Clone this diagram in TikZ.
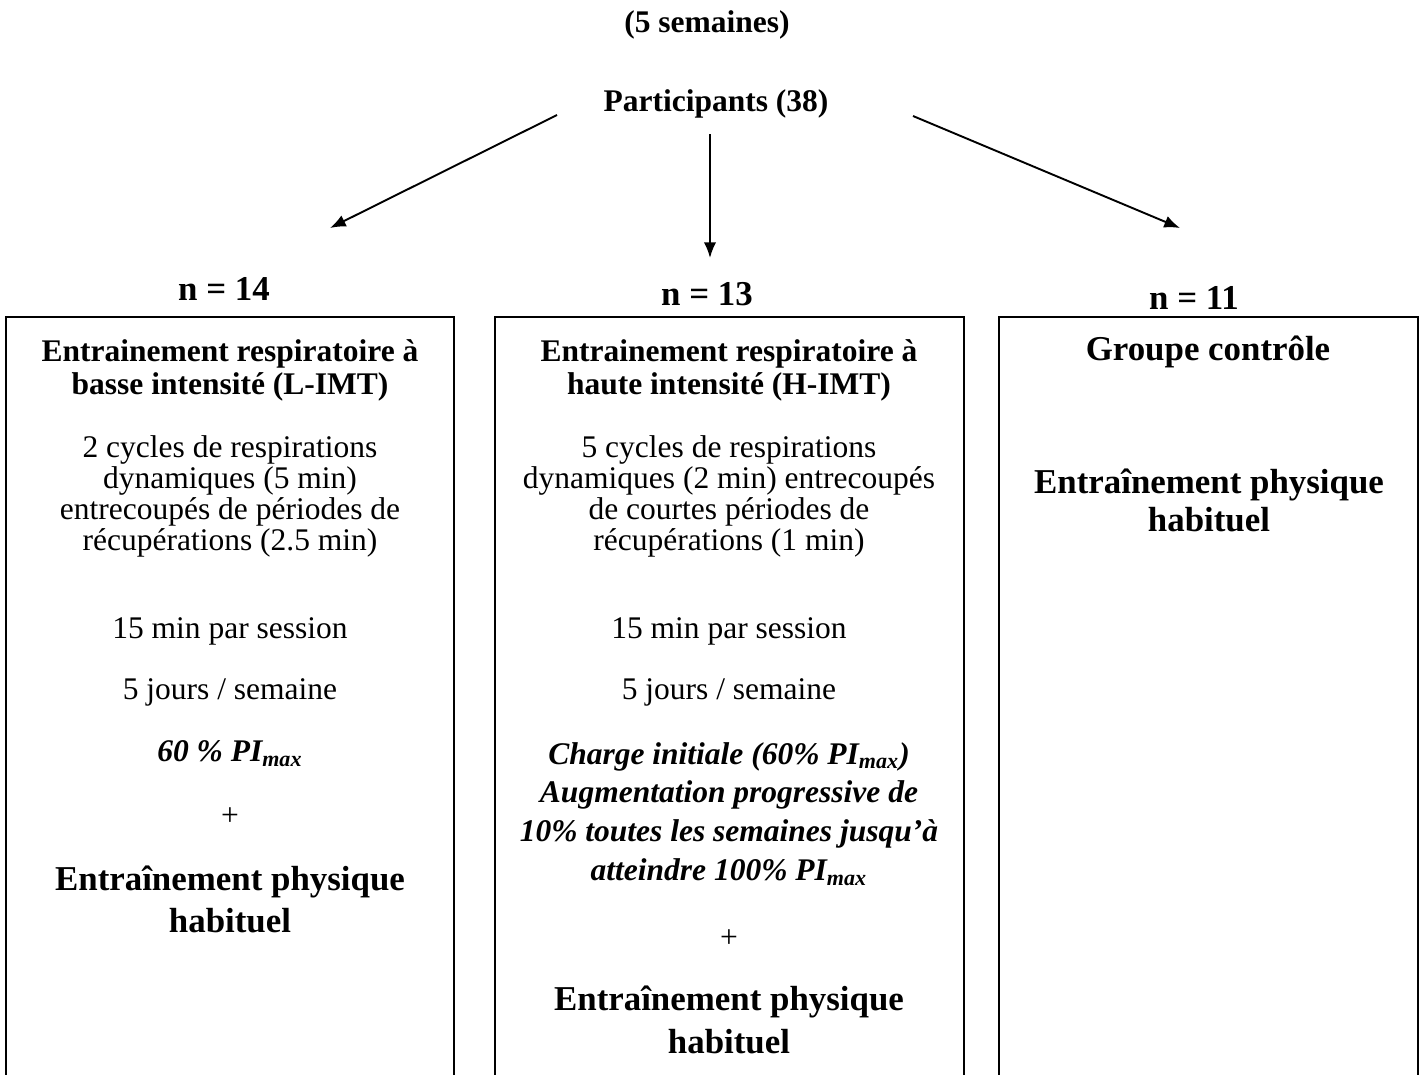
\documentclass[tikz,border=0pt]{standalone}
\usepackage{fontspec}
\setmainfont{Liberation Serif}
\usetikzlibrary{arrows.meta}
\tikzset{bodytxt/.style={align=center,inner sep=0pt,font=\fontsize{14}{13.8}\selectfont},
	headtxt/.style={align=center,inner sep=0pt,font=\bfseries\fontsize{14}{14.7}\selectfont},
	bigtxt/.style={align=center,inner sep=0pt,font=\bfseries\fontsize{15.5}{19}\selectfont},
	ittxt/.style={align=center,inner sep=0pt,font=\bfseries\itshape\fontsize{14}{17.3}\selectfont},
	ntxt/.style={inner sep=0pt,font=\bfseries\fontsize{15.5}{18}\selectfont},
	grpbox/.style={line width=0.9pt},
	flow/.style={-{Latex[length=7pt,width=5.5pt]},line width=0.85pt}}

\begin{document}
\begin{tikzpicture}[x=0.4444pt,y=-0.4444pt]
			\useasboundingbox (0,0) rectangle (1422,1074);
			\node[headtxt] (weeks) at (707,25) {(5 semaines)};
			\node[headtxt] (part) at (716,104) {Participants (38)};
			\coordinate (pl) at (557,115);
			\coordinate (pm) at (710,134);
			\coordinate (pr) at (913,116);
			\coordinate (al) at (330,228);
			\coordinate (am) at (710,258);
			\coordinate (ar) at (1180,228);
			\draw[flow] (pl) -- (al);
			\draw[flow] (pm) -- (am);
			\draw[flow] (pr) -- (ar);
			\node[ntxt] (nl) at (224,289) {n = 14};
			\node[ntxt] (nm) at (707,294) {n = 13};
			\node[ntxt] (nr) at (1194,298) {n = 11};
			\draw[grpbox] (6,1090) -- (6,317) -- (454,317) -- (454,1090);
			\draw[grpbox] (495,1090) -- (495,317) -- (964,317) -- (964,1090);
			\draw[grpbox] (999,1090) -- (999,317) -- (1418,317) -- (1418,1090);
			\node[headtxt] (lhead) at (230,370) {Entrainement respiratoire à\\basse intensité (L-IMT)};
			\node[bodytxt] (lcyc) at (230,496.5) {2 cycles de respirations\\dynamiques (5 min)\\entrecoupés de périodes de\\récupérations (2.5 min)};
			\node[bodytxt] (lsess) at (230,631) {15 min par session};
			\node[bodytxt] (ldays) at (230,692) {5 jours / semaine};
			\node[ittxt] (lload) at (230,754) {60 \% PI\textsubscript{max}};
			\node[bodytxt] (lplus) at (230,817) {+};
			\node[bigtxt] (lphys) at (230,899.5) {Entraînement physique\\habituel};
			\node[headtxt] (mhead) at (729,370) {Entrainement respiratoire à\\haute intensité (H-IMT)};
			\node[bodytxt] (mcyc) at (729,496.5) {5 cycles de respirations\\dynamiques (2 min) entrecoupés\\de courtes périodes de\\récupérations (1 min)};
			\node[bodytxt] (msess) at (729,631) {15 min par session};
			\node[bodytxt] (mdays) at (729,692) {5 jours / semaine};
			\node[ittxt] (mload) at (729,814) {Charge initiale (60\% PI\textsubscript{max})\\Augmentation progressive de\\10\% toutes les semaines jusqu’à\\atteindre 100\% PI\textsubscript{max}};
			\node[bodytxt] (mplus) at (729,939) {+};
			\node[bigtxt] (mphys) at (729,1020) {Entraînement physique\\habituel};
			\node[bigtxt] (rhead) at (1208,352) {Groupe contrôle};
			\node[bigtxt,font=\bfseries\fontsize{15.5}{16.9}\selectfont] (rphys) at (1209,500) {Entraînement physique\\habituel};
\end{tikzpicture}
\end{document}
